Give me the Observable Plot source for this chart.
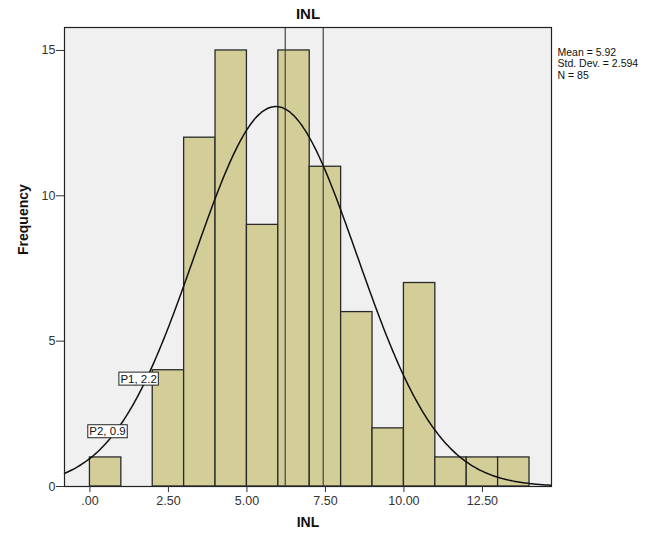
<!DOCTYPE html>
<html>
<head>
<meta charset="utf-8">
<script src="https://cdn.jsdelivr.net/npm/d3@7"></script>
<script src="https://cdn.jsdelivr.net/npm/@observablehq/plot@0.6"></script>
<style>
  body { margin: 0; background: #fff; font-family: "Liberation Sans", Arial, sans-serif; }
  #chart { position: relative; width: 660px; height: 536px; }
</style>
</head>
<body>
<div id="chart"></div>
<script>
// Histogram bins (lower edge, upper edge) and counts
const binStart = [0, 1, 2, 3, 4, 5, 6, 7, 8, 9, 10, 11, 12, 13];
const binEnd   = [1, 2, 3, 4, 5, 6, 7, 8, 9, 10, 11, 12, 13, 14];
const counts   = [1, 0, 4, 12, 15, 9, 15, 11, 6, 2, 7, 1, 1, 1];

// Summary statistics shown in the legend
const meanVal = 5.92;
const sdVal = 2.594;
const nVal = 85;

// Reference lines
const refLines = [6.22, 7.43];

// Point labels
const labelText = ["P1, 2.2", "P2, 0.9"];
const labelX = [1.55, 0.56];
const labelY = [3.7, 1.89];

const xTicks = [0, 2.5, 5, 7.5, 10, 12.5];
const yTicks = [0, 5, 10, 15];

const xDomain = [-0.81, 14.7];
const yDomain = [0, 15.79];

const bars = binStart.map((s, i) => ({x1: s, x2: binEnd[i], y: counts[i]}));
const labels = labelText.map((t, i) => ({t, x: labelX[i], y: labelY[i]}));

// Fitted normal curve (scaled to counts, bin width 1)
const binWidth = 1;
const curve = d3.range(xDomain[0], xDomain[1] + 0.001, 0.05).map(x => ({
  x,
  y: nVal * binWidth / (sdVal * Math.sqrt(2 * Math.PI)) * Math.exp(-((x - meanVal) ** 2) / (2 * sdVal * sdVal))
}));

const fmtX = d => d === 0 ? ".00" : d3.format(".2f")(d);
const tickStrings = new Set([...xTicks.map(fmtX), ...yTicks.map(String)]);

const plot = Plot.plot({
  width: 660,
  height: 536,
  marginLeft: 64,
  marginRight: 109,
  marginTop: 27,
  marginBottom: 50,
  style: {fontFamily: "'Liberation Sans', Arial, sans-serif", fontSize: "11px", background: "#fff", color: "#333"},
  x: {domain: xDomain, label: null},
  y: {domain: yDomain, label: null},
  marks: [
    Plot.frame({fill: "#f0f0f0", stroke: "none"}),
    Plot.rectY(bars, {x1: "x1", x2: "x2", y: "y", fill: "#d3cd97", stroke: "#2a2a2a", strokeWidth: 1.3}),
    Plot.ruleX(refLines, {stroke: "#444", strokeWidth: 1.2}),
    Plot.line(curve, {x: "x", y: "y", stroke: "#111", strokeWidth: 1.5, curve: "basis"}),
    Plot.text(labels, {x: "x", y: "y", text: "t", fill: "#111", fontSize: 11.5}),
    Plot.frame({stroke: "#222", strokeWidth: 1.2}),
    Plot.axisX({ticks: xTicks, tickFormat: fmtX, tickSize: 6, tickPadding: 4, color: "#333", label: null}),
    Plot.axisY({ticks: yTicks, tickSize: 8, tickPadding: 1, color: "#333", label: null}),
    Plot.text(["INL"], {frameAnchor: "top", dy: -13, lineAnchor: "middle", fontSize: 15, fontWeight: "bold", fill: "#111"}),
    Plot.text(["INL"], {frameAnchor: "bottom", dy: 36, lineAnchor: "middle", fontSize: 14, fontWeight: "bold", fill: "#111"}),
    Plot.text(["Frequency"], {frameAnchor: "left", dx: -41, dy: -2, rotate: -90, fontSize: 14, fontWeight: "bold", fill: "#111"}),
    Plot.text([`Mean = ${meanVal.toFixed(2)}\nStd. Dev. = ${sdVal.toFixed(3)}\nN = ${nVal}`],
      {frameAnchor: "top-right", dx: 6, dy: 20, textAnchor: "start", lineAnchor: "top", lineHeight: 1.1, fontSize: 10.5, fill: "#111"})
  ]
});

document.getElementById("chart").appendChild(plot);

// Enlarge tick labels (matched by their text)
d3.select(plot).selectAll("text").each(function() {
  if (tickStrings.has(this.textContent)) {
    this.style.fontSize = "12.5px";
    this.setAttribute("font-size", "12.5");
  }
});

// Boxes around the point labels
d3.select(plot).selectAll("text").each(function() {
  const s = this.textContent;
  if (labelText.includes(s)) {
    const b = this.getBBox();
    d3.select(this.parentNode).insert("rect", () => this)
      .attr("transform", this.getAttribute("transform"))
      .attr("x", b.x - 1.5).attr("y", b.y - 0.5)
      .attr("width", b.width + 3).attr("height", b.height + 1)
      .attr("fill", "#fff").attr("stroke", "#222").attr("stroke-width", 1);
  }
});
</script>
</body>
</html>
